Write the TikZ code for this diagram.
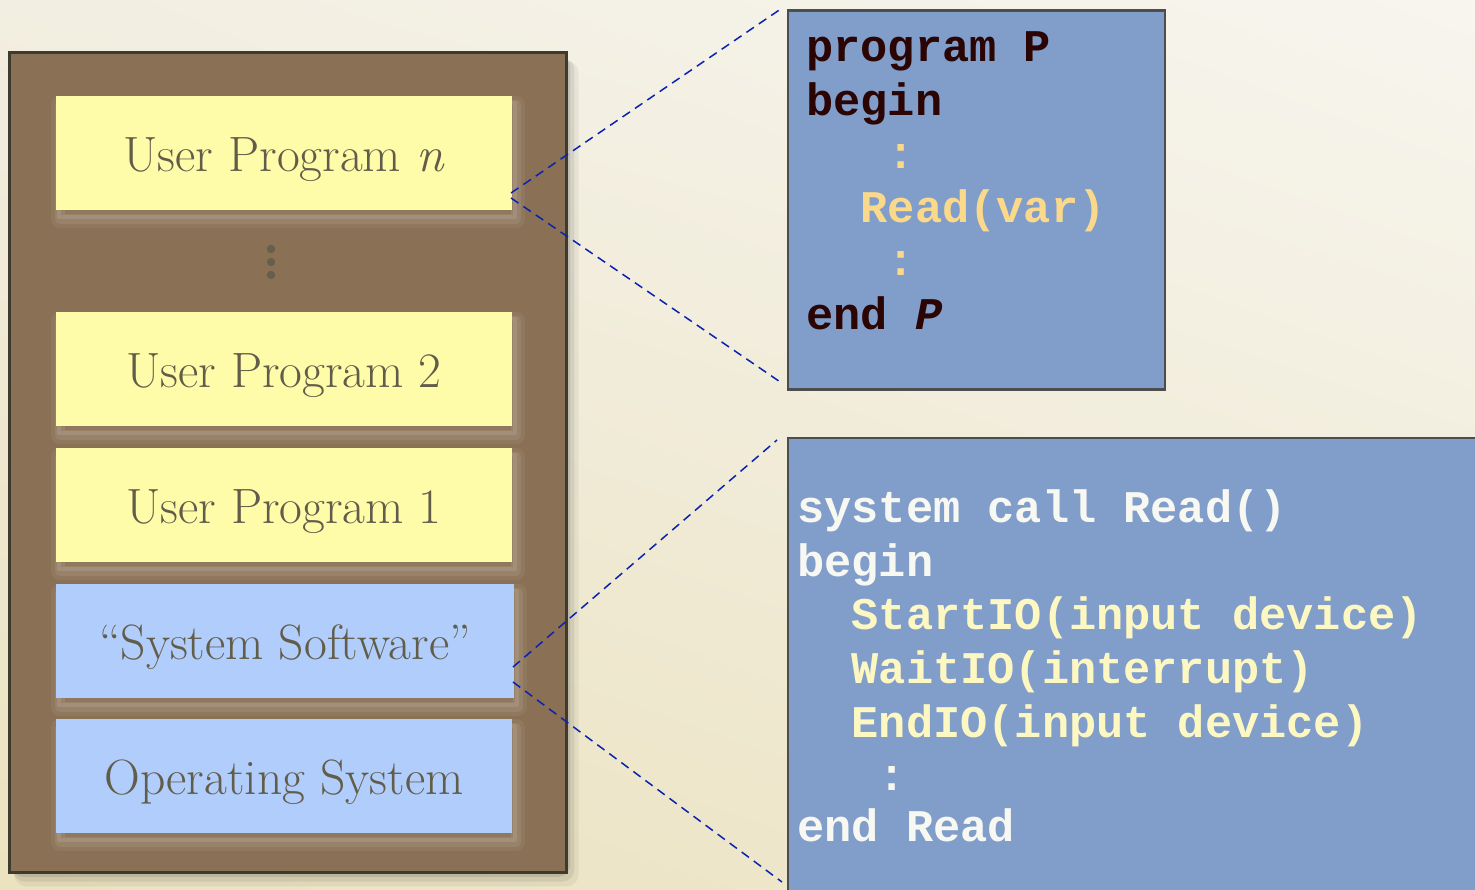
\documentclass[tikz,border=0pt]{standalone}
\usepackage{fontspec}
\newfontfamily\codefont{Liberation Mono}
\usetikzlibrary{calc,shadings}

\definecolor{bgtl}{HTML}{F2EEE1}
\definecolor{bgtr}{HTML}{F7F5EE}
\definecolor{bgbl}{HTML}{EBE2BF}
\definecolor{bgbr}{HTML}{EFE9D2}
\definecolor{woodfill}{HTML}{8A7054}
\definecolor{woodedge}{HTML}{3D3A2E}
\definecolor{userfill}{HTML}{FFFCA9}
\definecolor{sysfill}{HTML}{B0CDFB}
\definecolor{labelgray}{HTML}{625D4A}
\definecolor{codefill}{HTML}{819ECB}
\definecolor{codeedge}{HTML}{4D4D4D}
\definecolor{codedark}{HTML}{2B0404}
\definecolor{codegold}{HTML}{FBD98A}
\definecolor{codewhite}{HTML}{F8F8F2}
\definecolor{codecream}{HTML}{FDF7C2}
\definecolor{zoomblue}{HTML}{0A22B0}

\tikzset{
  layer/.style={rectangle, inner sep=0pt, outer sep=0pt,
    minimum width=228pt, minimum height=57pt,
    text height=24.5pt, text depth=6pt,
    font=\fontsize{24.8}{28}\selectfont, text=labelgray,
    preaction={draw=white, opacity=0.06, line width=9pt, line join=round,
      transform canvas={xshift=2pt, yshift=-4.5pt}},
    preaction={draw=white, opacity=0.08, line width=5pt, line join=round,
      transform canvas={xshift=2pt, yshift=-4.5pt}},
    preaction={draw=white, opacity=0.10, line width=2pt, line join=round,
      transform canvas={xshift=1.5pt, yshift=-3.5pt}}},
  userlayer/.style={layer, fill=userfill},
  syslayer/.style={layer, fill=sysfill},
  codebox/.style={rectangle, inner sep=0pt, outer sep=0pt, fill=codefill,
    draw=codeedge, line width=1.2pt},
  codeline/.style={anchor=base west, inner sep=0pt,
    font=\codefont\bfseries\fontsize{22.65}{26.8}\selectfont},
  zoomline/.style={draw=zoomblue, line width=0.75pt, dash pattern=on 4.5pt off 3pt},
}

\begin{document}
\begin{tikzpicture}[x=0.5pt, y=-0.5pt]
  % page and background
  \useasboundingbox (0,0) rectangle (1475,889);
  \shade[upper left=bgtl, upper right=bgtr, lower left=bgbl, lower right=bgbr]
    (0,0) rectangle (1475,889);

  % memory column with its soft drop shadow
  \foreach \w/\o in {18/0.05, 12/0.07, 6/0.09}
    \fill[black, opacity=\o, rounded corners=6pt]
      (9+\w*0.3,52+\w*0.5) rectangle (566+\w*0.7,872+\w*0.8);
  \node[rectangle, inner sep=0pt, outer sep=0pt, fill=woodfill, draw=woodedge,
        line width=1.5pt, minimum width=278.5pt, minimum height=410pt]
        (memory) at (287.5,462) {};

  % layers inside the memory column
  \node[userlayer] (upn) at (284,153) {User Program \textit{n}};
  \node[userlayer] (up2) at (284,369) {User Program 2};
  \node[userlayer] (up1) at (284,505) {User Program 1};
  \node[syslayer, minimum width=229pt] (sys) at (285,641) {``System Software''};
  \node[syslayer] (os) at (284,776) {Operating System};

  % vertical ellipsis between the user programs
  \foreach \yy in {249,262,275}
    \fill[labelgray!90!woodfill] (271,\yy) circle (2.1pt);

  % user program listing
  \node[codebox, minimum width=188.5pt, minimum height=189.5pt]
    (prog) at (976.5,200) {};
  \node[codeline, text=codedark] (p1) at (806,61) {program P};
  \node[codeline, text=codedark] (p2) at (806,115) {begin};
  \node[codeline, text=codegold] (p3) at (806,168) {\ \ \ :};
  \node[codeline, text=codegold] (p4) at (806,222) {\ \ Read(var)};
  \node[codeline, text=codegold] (p5) at (806,275) {\ \ \ :};
  \node[codeline, text=codedark] (p6) at (806,329) {end \textit{P}};

  % system call listing
  \node[codebox, minimum width=360pt, minimum height=230pt]
    (call) at (1148,668) {};
  \node[codeline, text=codewhite] (s1) at (797,522) {system call Read()};
  \node[codeline, text=codewhite] (s2) at (797,576) {begin};
  \node[codeline, text=codecream] (s3) at (797,629) {\ \ StartIO(input device)};
  \node[codeline, text=codecream] (s4) at (797,683) {\ \ WaitIO(interrupt)};
  \node[codeline, text=codecream] (s5) at (797,737) {\ \ EndIO(input device)};
  \node[codeline, text=codewhite] (s6) at (797,790) {\ \ \ :};
  \node[codeline, text=codewhite] (s7) at (797,841) {end Read};

  % zoom connectors from the layers to their listings
  \coordinate (upnA) at ($(upn.south east)+(-1,-17)$);
  \coordinate (upnB) at ($(upn.south east)+(-1,-12)$);
  \coordinate (progA) at ($(prog.north west)+(-8,-1)$);
  \coordinate (progB) at ($(prog.south west)+(-7,-7)$);
  \draw[zoomline] (upnA) -- (progA);
  \draw[zoomline] (upnB) -- (progB);

  \coordinate (sysA) at ($(sys.south east)+(-1,-31)$);
  \coordinate (sysB) at ($(sys.south east)+(-1,-16)$);
  \coordinate (callA) at ($(call.north west)+(-11,2)$);
  \coordinate (callB) at ($(call.north west)+(-6,444)$);
  \draw[zoomline] (sysA) -- (callA);
  \draw[zoomline] (sysB) -- (callB);
\end{tikzpicture}
\end{document}
